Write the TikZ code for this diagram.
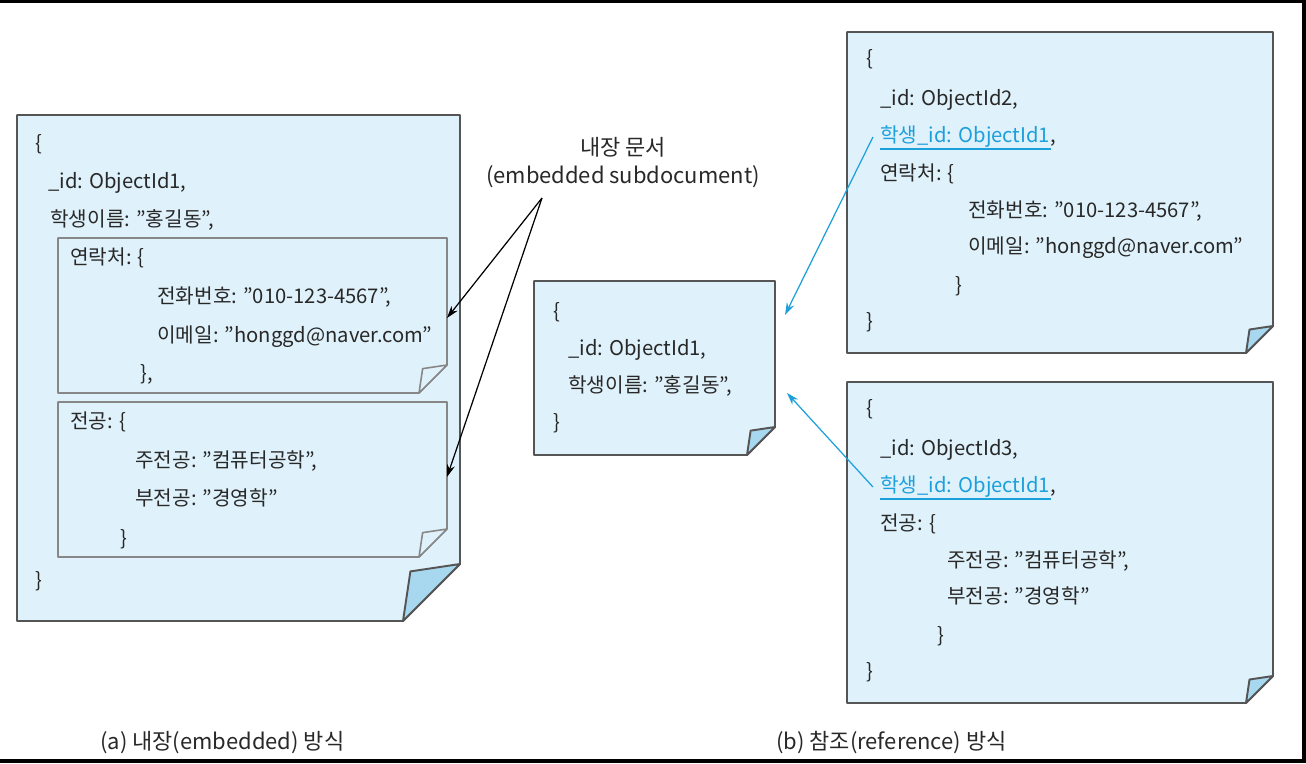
\documentclass[tikz,border=0pt]{standalone}
\usepackage{fontspec}
\setmainfont{Noto Sans CJK KR}
\usepackage{xcolor}
\usetikzlibrary{arrows.meta,positioning}
\definecolor{pageblue}{RGB}{223,241,250}
\definecolor{flapblue}{RGB}{168,216,240}
\definecolor{edgegray}{RGB}{85,85,85}
\definecolor{innergray}{RGB}{135,135,135}
\definecolor{textgray}{RGB}{40,40,40}
\definecolor{refblue}{RGB}{28,160,220}
\tikzset{
  pagebox/.style={draw=edgegray, fill=pageblue, line width=1.1pt, line join=round},
  subbox/.style={draw=innergray, fill=pageblue, line width=0.9pt, line join=round},
  flapfill/.style={fill=flapblue},
  subflap/.style={fill=pageblue},
  code/.style={anchor=west, inner sep=0pt, text height=0.8em, text depth=0.2em, text=textgray, font=\fontsize{11.5}{13}\selectfont},
  refcode/.style={code, text=refblue},
  note/.style={inner sep=0pt, text=textgray, font=\fontsize{12.5}{15}\selectfont},
  caption/.style={code, font=\fontsize{12.5}{15}\selectfont},
  line/.style={-{Stealth[length=7pt,width=4.5pt]}, line width=0.7pt},
  refline/.style={line, draw=refblue}
}
\newcommand{\docpage}[7]{%
  \draw[#1] (#3,#4) -- (#5,#4) -- (#5,{#6-#7}) -- ({#5-#7},#6) -- (#3,#6) -- cycle;
  \draw[#1,#2] (#5,{#6-#7}) -- ({#5-0.87*#7},{#6-0.87*#7}) -- ({#5-#7},#6) -- cycle;
}

\begin{document}
\begin{tikzpicture}[x=0.02cm, y=-0.02cm]
  \useasboundingbox (0,0) rectangle (1306,764);
  \draw[line width=2.5pt] (0,1) -- (1304,1) -- (1304,761) -- (0,761);

  \docpage{pagebox}{flapfill}{17}{115}{460}{621}{57}
  \docpage{subbox}{subflap}{58}{238}{447}{393}{28}
  \docpage{subbox}{subflap}{58}{402}{447}{557}{28}
  \node[code] (aopen) at (35,145) {\{};
  \node[code] (aid) at (48,183) {\_id: ObjectId1,};
  \node[code] (aname) at (50,221) {학생이름: "홍길동",};
  \node[code] (acontact) at (70,259) {연락처: \{};
  \node[code] (aphone) at (157,298) {전화번호: "010-123-4567",};
  \node[code] (amail) at (157,337) {이메일: "honggd@naver.com"};
  \node[code] (acclose) at (140,375) {\},};
  \node[code] (amajor) at (70,423) {전공: \{};
  \node[code] (amain) at (135,462) {주전공: "컴퓨터공학",};
  \node[code] (asub) at (135,500) {부전공: "경영학"};
  \node[code] (amclose) at (120,540) {\}};
  \node[code] (aclose) at (35,582) {\}};

  \docpage{pagebox}{flapfill}{534}{281}{775}{455}{28}
  \node[code] (bopen) at (553,313) {\{};
  \node[code] (bid) at (568,350) {\_id: ObjectId1,};
  \node[code] (bname) at (568,387) {학생이름: "홍길동",};
  \node[code] (bclose) at (553,424) {\}};

  \docpage{pagebox}{flapfill}{847}{32}{1273}{353}{27}
  \node[code] (copen) at (866,60) {\{};
  \node[code] (cid) at (880,100) {\_id: ObjectId2,};
  \node[refcode] (cref) at (880,137) {학생\_id: ObjectId1};
  \node[code, anchor=base west] (ccomma) at (cref.base east) {,};
  \node[code] (ccontact) at (880,175) {연락처: \{};
  \node[code] (cphone) at (968,212) {전화번호: "010-123-4567",};
  \node[code] (cmail) at (968,248) {이메일: "honggd@naver.com"};
  \node[code] (ccclose) at (955,287) {\}};
  \node[code] (cclose) at (866,323) {\}};

  \docpage{pagebox}{flapfill}{847}{382}{1273}{703}{27}
  \node[code] (dopen) at (866,410) {\{};
  \node[code] (did) at (880,450) {\_id: ObjectId3,};
  \node[refcode] (dref) at (880,487) {학생\_id: ObjectId1};
  \node[code, anchor=base west] (dcomma) at (dref.base east) {,};
  \node[code] (dmajor) at (880,525) {전공: \{};
  \node[code] (dmain) at (947,562) {주전공: "컴퓨터공학",};
  \node[code] (dsub) at (947,598) {부전공: "경영학"};
  \node[code] (dmclose) at (937,637) {\}};
  \node[code] (dclose) at (866,673) {\}};

  \draw[refblue, line width=0.9pt] ([yshift=-1.5pt]cref.south west) -- ([yshift=-1.5pt]cref.south east);
  \draw[refblue, line width=0.9pt] ([yshift=-1.5pt]dref.south west) -- ([yshift=-1.5pt]dref.south east);

  \node[note] (embtitle) at (623,147) {내장 문서};
  \node[note] (embsub) at (623,177) {(embedded subdocument)};
  \coordinate (emb) at (542,198);
  \coordinate (ain1) at (447,318);
  \coordinate (ain2) at (447,477);
  \draw[line] (emb) -- (ain1);
  \draw[line] (emb) -- (ain2);

  \coordinate (bin1) at (785,315);
  \coordinate (bin2) at (787,393);
  \draw[refline] ([xshift=-4pt]cref.west) -- (bin1);
  \draw[refline] ([xshift=-4pt]dref.west) -- (bin2);

  \node[caption] (capa) at (100,744) {(a) 내장(embedded) 방식};
  \node[caption] (capb) at (776,744) {(b) 참조(reference) 방식};
\end{tikzpicture}
\end{document}
